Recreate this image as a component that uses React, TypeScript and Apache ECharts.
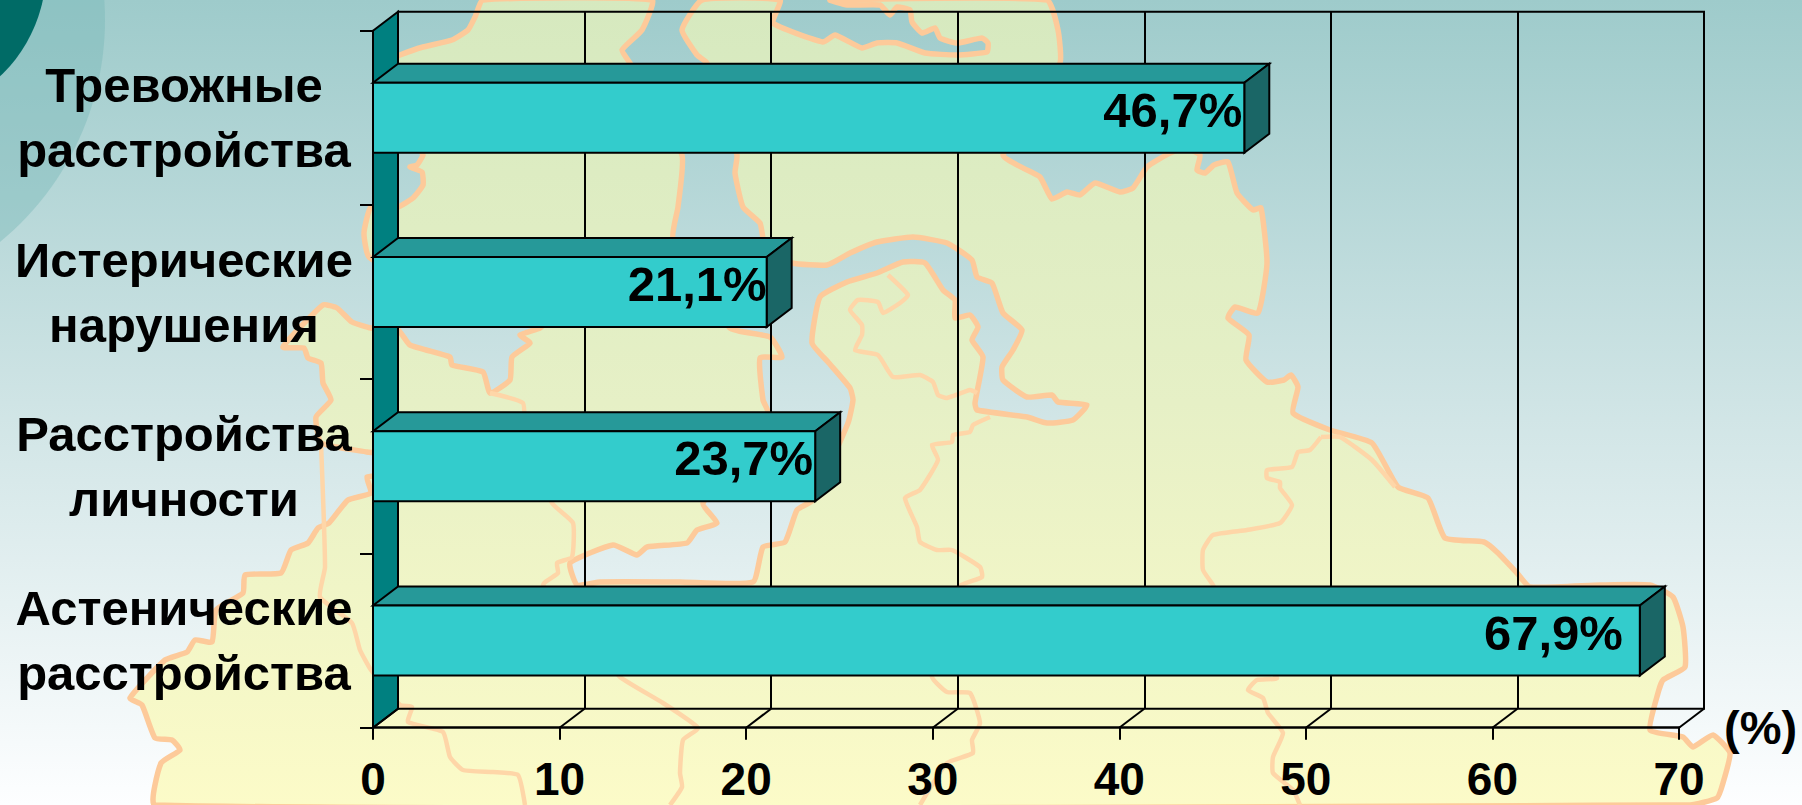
import React, { useEffect, useRef } from "react";
import * as echarts from "echarts";

const categories = ["Тревожные\nрасстройства", "Истерические\nнарушения", "Расстройства\nличности", "Астенические\nрасстройства"];
const percentValues = [46.7, 21.1, 23.7, 67.9];
const labelInset = [2, 0, 2, 17];
const xTicks = [0, 10, 20, 30, 40, 50, 60, 70];

const DEPTH_X = 25;
const DEPTH_Y = 19;
const BAR_H = 70;
const FONT = '"Liberation Sans", Arial, sans-serif';

// decorative background map (page pixels)
const LAND = [
  [483,0],[475,17],[468,30],[452,40],[423,47],[400,55],[385,62],[385,100],[420,150],[423,155],[417,165],[410,167],[422,172],[423,185],[413,198],[398,207],[371,207],[364,233],[369,257],[450,300],[545,322],[540,328],[520,335],[530,343],[512,357],[510,380],[490,393],[483,372],[452,365],[450,357],[410,345],[398,330],[371,328],[352,322],[337,308],[323,305],[283,347],[304,348],[308,358],[321,363],[323,383],[331,400],[316,417],[321,443],[367,452],[385,455],[385,475],[367,477],[371,493],[348,500],[329,523],[318,528],[308,543],[291,550],[281,573],[245,575],[243,593],[216,610],[212,642],[195,640],[187,652],[165,660],[130,698],[142,705],[155,738],[172,740],[180,750],[161,763],[155,805],
  [1690,805],[1717,798],[1723,783],[1730,753],[1713,735],[1693,747],[1683,737],[1650,730],[1658,693],[1663,680],[1685,667],[1683,627],[1673,597],[1650,585],[1600,585],[1530,587],[1517,573],[1498,553],[1484,542],[1445,538],[1428,498],[1398,487],[1372,443],[1330,430],[1293,413],[1298,387],[1291,375],[1284,380],[1267,382],[1246,360],[1249,335],[1228,318],[1235,307],[1258,313],[1267,263],[1261,208],[1253,210],[1237,193],[1228,162],[1214,165],[1205,173],[1197,170],[1200,155],[1185,148],[1168,154],[1147,167],[1133,188],[1120,192],[1095,183],[1080,195],[1067,192],[1052,199],[1040,177],[1023,168],[1003,155],[1060,63],[1058,30],[1047,0],
  [830,0],[847,5],[880,5],[890,15],[897,7],[910,10],[912,22],[922,33],[935,28],[940,38],[957,43],[982,38],[988,43],[987,52],[957,55],[925,53],[897,43],[877,43],[862,48],[835,35],[823,42],[773,23],[780,0],
  [702,0],[682,30],[697,55],[707,63],[737,155],[735,173],[743,207],[760,223],[763,238],[768,250],[792,263],[827,265],[850,253],[877,242],[913,237],[947,243],[972,260],[977,277],[992,283],[1003,313],[1022,330],[1013,350],[1002,367],[1003,380],[1027,397],[1052,395],[1058,402],[1087,405],[1073,420],[1047,423],[1027,417],[977,410],[975,403],[983,357],[972,340],[978,327],[970,315],[955,318],[955,300],[943,290],[925,263],[903,262],[877,273],[847,282],[820,297],[812,343],[828,362],[850,388],[853,400],[848,423],[813,500],[797,510],[785,542],[763,547],[753,582],[680,582],[600,582],[577,585],[570,563],[613,545],[637,555],[647,547],[687,543],[697,530],[717,523],[703,503],[768,413],[763,400],[760,358],[782,357],[770,337],[730,328],[673,238],[678,207],[682,155],[630,63],[622,50],[642,30],[652,0]
];
const BORDERS = [
  [[888,275],[908,295],[900,303],[883,313],[878,302],[858,300],[850,310],[862,325],[862,335],[855,350],[878,355],[893,377],[920,375],[933,382],[938,395],[947,398],[970,390],[977,393]],
  [[990,417],[973,425],[970,432],[953,435],[952,442],[932,445],[938,460],[920,490],[905,498],[917,527],[920,542],[937,550],[952,550],[980,567],[982,577],[958,587],[940,640],[932,677],[947,692],[970,693],[980,723],[972,740],[973,753],[947,763],[920,805]],
  [[490,393],[523,403],[525,430],[552,503],[573,523],[572,557],[557,563],[558,573],[543,585],[600,650],[620,677],[663,703],[698,728],[683,740],[680,773],[682,787],[670,805]],
  [[321,443],[325,567],[320,597],[352,623],[360,650],[371,670],[400,705],[412,707],[408,722],[443,732],[450,757],[463,770],[493,772],[518,775],[525,805]],
  [[1321,437],[1310,450],[1298,452],[1292,467],[1267,470],[1267,478],[1280,482],[1280,488],[1292,505],[1280,523],[1247,530],[1213,535],[1203,550],[1203,570],[1213,585],[1240,640],[1277,678],[1257,680],[1248,690],[1263,698],[1268,713],[1283,733],[1273,757],[1273,773],[1293,790],[1300,805]],
  [[1321,437],[1340,437],[1372,460],[1395,487]]
];

function fmt(v: number) {
  return v.toFixed(1).replace(".", ",") + "%";
}

export default function App() {
  const ref = useRef<HTMLDivElement>(null);
  useEffect(() => {
    document.body.style.margin = "0";
    const chart = echarts.init(ref.current!, null, { renderer: "svg" });
    const grad = (c: string[][]) =>
      new echarts.graphic.LinearGradient(0, 0, 0, 1, c.map(([o, color]) => ({ offset: Number(o), color })));
    const graphicEls: any[] = [
      { type: "circle", z: -10, shape: { cx: -182, cy: 20, r: 287 }, style: { fill: "rgba(120,184,184,0.42)" } },
      { type: "circle", z: -9, shape: { cx: -100, cy: -30, r: 146 }, style: { fill: "#006b66" } },
      {
        type: "polygon", z: -8,
        shape: { points: LAND, smooth: 0.15 },
        style: {
          fill: grad([["0", "#d6e9bf"], ["0.5", "#e6f0c6"], ["1", "#fcfbc8"]]),
          stroke: "#fdca9a", lineWidth: 5.5, lineJoin: "round",
        },
      },
      ...BORDERS.map((pts) => ({
        type: "polyline", z: -7,
        shape: { points: pts, smooth: 0.15 },
        style: { fill: "none", stroke: "#fed6a8", lineWidth: 4.5, lineJoin: "round" },
      })),
    ];
    const option: any = {
      animation: false,
      backgroundColor: grad([["0", "#9ecbcb"], ["0.5", "#cfe4e5"], ["1", "#fdfeff"]]),
      graphic: { elements: graphicEls },
      grid: [
        { left: 373, top: 30.7, width: 1306, height: 697, show: false, containLabel: false },
        { left: 373 + DEPTH_X, top: 30.7 - DEPTH_Y, width: 1306, height: 697, show: true, borderColor: "#000", borderWidth: 2, backgroundColor: "transparent" },
      ],
      xAxis: [
        {
          type: "value", gridIndex: 0, min: 0, max: 70, interval: 10,
          splitLine: { show: false },
          axisLine: { show: true, onZero: false, lineStyle: { color: "#000", width: 2.5 } },
          axisTick: { show: true, length: 12, lineStyle: { color: "#000", width: 2 } },
          axisLabel: { color: "#000", fontFamily: FONT, fontWeight: "bold", fontSize: 46, lineHeight: 38, margin: 32, hideOverlap: false, showMinLabel: true, showMaxLabel: true },
          name: "(%)", nameLocation: "end", nameGap: 45,
          nameTextStyle: { color: "#000", fontFamily: FONT, fontWeight: "bold", fontSize: 47, padding: [0, 0, 30, 0] },
        },
        {
          type: "value", gridIndex: 1, min: 0, max: 70, interval: 10,
          axisLine: { show: false }, axisTick: { show: false }, axisLabel: { show: false },
          splitLine: { show: true, lineStyle: { color: "#000", width: 2 } },
        },
      ],
      yAxis: [
        {
          type: "category", gridIndex: 0, data: categories, inverse: true,
          axisLine: { show: true, lineStyle: { color: "#000", width: 2 } },
          axisTick: { show: true, length: 13, lineStyle: { color: "#000", width: 2 } },
          axisLabel: { color: "#000", fontFamily: FONT, fontWeight: "bold", fontSize: 49, lineHeight: 65, align: "center", margin: 189, interval: 0, padding: [0, 0, 8, 0] },
        },
        { type: "category", gridIndex: 1, data: categories, inverse: true, show: false },
      ],
      series: [
        {
          type: "custom", name: "wall", xAxisIndex: 0, yAxisIndex: 0, z: 2, silent: true,
          data: [[0, 0]],
          renderItem: (params: any) => {
            const c = params.coordSys;
            return {
              type: "polygon",
              shape: { points: [[c.x, c.y], [c.x + DEPTH_X, c.y - DEPTH_Y], [c.x + DEPTH_X, c.y + c.height - DEPTH_Y], [c.x, c.y + c.height]] },
              style: { fill: "#008080", stroke: "#000", lineWidth: 2 },
            };
          },
        },
        {
          type: "custom", name: "floor", xAxisIndex: 0, yAxisIndex: 0, z: 2, silent: true,
          data: xTicks.map((t) => [t, 0]),
          renderItem: (params: any, api: any) => {
            const c = params.coordSys;
            const x = api.coord([api.value(0), 0])[0];
            const y = c.y + c.height;
            return { type: "line", shape: { x1: x, y1: y, x2: x + DEPTH_X, y2: y - DEPTH_Y }, style: { stroke: "#000", lineWidth: 2 } };
          },
        },
        {
          type: "custom", name: "bars", xAxisIndex: 0, yAxisIndex: 0, z: 3, silent: true,
          data: percentValues.map((v, i) => [v, i]),
          encode: { x: 0, y: 1 },
          renderItem: (_p: any, api: any) => {
            const v = api.value(0);
            const i = api.value(1);
            const [x1, yc] = api.coord([v, i]);
            const x0 = api.coord([0, i])[0];
            const t = yc - BAR_H / 2;
            const b = yc + BAR_H / 2;
            const line = { stroke: "#000", lineWidth: 2, lineJoin: "miter" };
            return {
              type: "group",
              children: [
                { type: "polygon", shape: { points: [[x0, t], [x0 + DEPTH_X, t - DEPTH_Y], [x1 + DEPTH_X, t - DEPTH_Y], [x1, t]] }, style: { fill: "#269999", ...line } },
                { type: "polygon", shape: { points: [[x1, t], [x1 + DEPTH_X, t - DEPTH_Y], [x1 + DEPTH_X, b - DEPTH_Y], [x1, b]] }, style: { fill: "#1a6666", ...line } },
                { type: "rect", shape: { x: x0, y: t, width: x1 - x0, height: BAR_H }, style: { fill: "#33cccc", ...line } },
                {
                  type: "text", x: x1 - labelInset[i], y: yc - 8,
                  style: { text: fmt(v), fill: "#000", font: `bold 49px ${FONT}`, textAlign: "right", textVerticalAlign: "middle" },
                },
              ],
            };
          },
        },
      ],
    };
    chart.setOption(option);
    return () => chart.dispose();
  }, []);
  return <div ref={ref} style={{ position: "absolute", left: 0, top: 0, width: 1802, height: 805 }} />;
}
